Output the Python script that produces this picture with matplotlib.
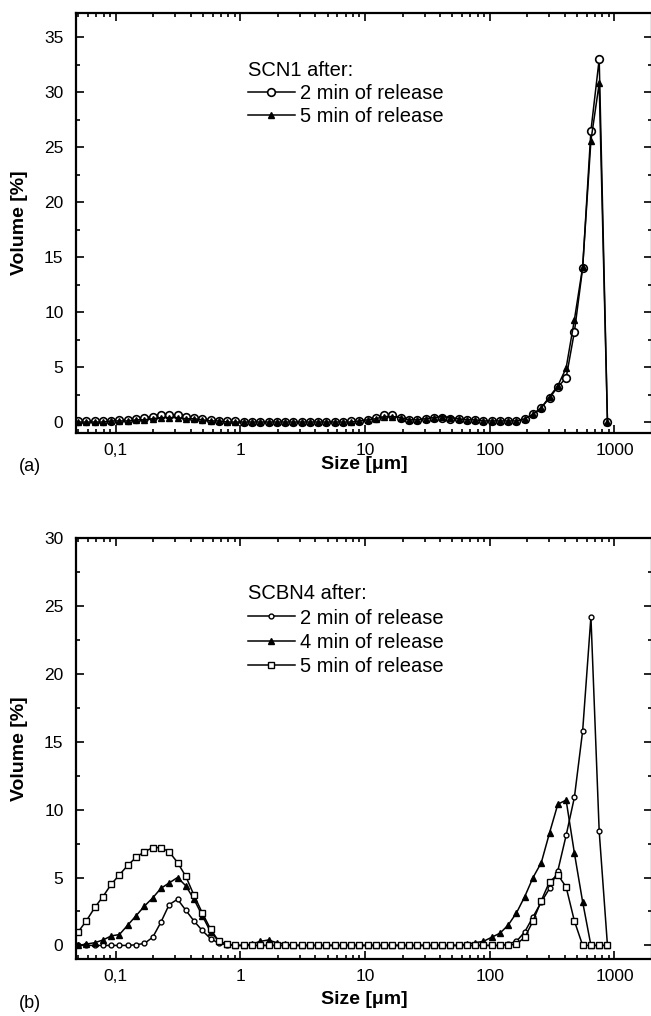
import matplotlib
matplotlib.use("Agg")
import matplotlib.pyplot as plt
from matplotlib.ticker import FixedLocator, FixedFormatter, LogLocator, NullFormatter, MultipleLocator

plt.rcParams["font.family"] = ["Liberation Sans", "DejaVu Sans"]

# particle size classes (um)
size_um = [0.050, 0.058, 0.068, 0.079, 0.092, 0.107, 0.125, 0.146, 0.170, 0.198,
           0.230, 0.268, 0.313, 0.364, 0.424, 0.494, 0.576, 0.671, 0.781, 0.910,
           1.06, 1.24, 1.44, 1.68, 1.95, 2.28, 2.65, 3.09, 3.60, 4.19,
           4.88, 5.69, 6.63, 7.72, 9.00, 10.48, 12.21, 14.22, 16.57, 19.31,
           22.49, 26.20, 30.53, 35.56, 41.43, 48.27, 56.23, 65.51, 76.32, 88.91,
           103.58, 120.67, 140.58, 163.77, 190.80, 222.28, 258.95, 301.68, 351.46, 409.45,
           477.01, 555.71, 647.41, 754.23, 878.67]

# (a) SCN1
scn1_2min = [0.1, 0.1, 0.1, 0.1, 0.1, 0.2, 0.2, 0.3, 0.4, 0.5,
             0.6, 0.6, 0.6, 0.5, 0.4, 0.3, 0.2, 0.1, 0.1, 0.1,
             0.0, 0.0, 0.0, 0.0, 0.0, 0.0, 0.0, 0.0, 0.0, 0.0,
             0.0, 0.0, 0.0, 0.1, 0.1, 0.2, 0.4, 0.6, 0.6, 0.4,
             0.2, 0.2, 0.3, 0.4, 0.4, 0.3, 0.3, 0.2, 0.2, 0.1,
             0.1, 0.1, 0.1, 0.1, 0.3, 0.7, 1.3, 2.2, 3.2, 4.0,
             8.2, 14.0, 26.5, 33.0, 0.0]
scn1_5min = [0.0, 0.0, 0.0, 0.0, 0.1, 0.1, 0.1, 0.2, 0.2, 0.3,
             0.4, 0.4, 0.4, 0.3, 0.3, 0.2, 0.1, 0.1, 0.0, 0.0,
             0.0, 0.0, 0.0, 0.0, 0.0, 0.0, 0.0, 0.0, 0.0, 0.0,
             0.0, 0.0, 0.0, 0.0, 0.1, 0.2, 0.3, 0.5, 0.5, 0.4,
             0.2, 0.2, 0.3, 0.4, 0.5, 0.4, 0.3, 0.2, 0.2, 0.1,
             0.1, 0.1, 0.1, 0.1, 0.3, 0.7, 1.3, 2.3, 3.3, 4.9,
             9.3, 14.1, 25.6, 30.8, 0.0]

# (b) SCBN4
scbn4_2min = [0.0, 0.0, 0.0, 0.0, 0.0, 0.0, 0.0, 0.05, 0.15, 0.6,
              1.7, 3.0, 3.4, 2.6, 1.8, 1.1, 0.5, 0.15, 0.05, 0.0,
              0.0, 0.0, 0.0, 0.0, 0.0, 0.0, 0.0, 0.0, 0.0, 0.0,
              0.0, 0.0, 0.0, 0.0, 0.0, 0.0, 0.0, 0.0, 0.0, 0.0,
              0.0, 0.0, 0.0, 0.0, 0.0, 0.0, 0.0, 0.0, 0.0, 0.0,
              0.0, 0.0, 0.1, 0.3, 1.0, 2.1, 3.2, 4.2, 5.5, 8.1,
              10.9, 15.8, 24.2, 8.4, 0.0]
scbn4_4min = [0.0, 0.1, 0.2, 0.4, 0.7, 0.8, 1.5, 2.2, 2.9, 3.5,
              4.2, 4.6, 5.0, 4.4, 3.4, 2.2, 1.0, 0.3, 0.1, 0.0,
              0.0, 0.1, 0.3, 0.4, 0.2, 0.1, 0.0, 0.0, 0.0, 0.0,
              0.0, 0.0, 0.0, 0.0, 0.0, 0.0, 0.0, 0.0, 0.0, 0.0,
              0.0, 0.0, 0.0, 0.0, 0.0, 0.0, 0.0, 0.1, 0.2, 0.3,
              0.6, 0.9, 1.5, 2.4, 3.6, 5.0, 6.1, 8.3, 10.4, 10.7,
              6.8, 3.2, 0.0, 0.0, 0.0]
scbn4_5min = [1.0, 1.8, 2.8, 3.6, 4.5, 5.2, 5.9, 6.5, 6.9, 7.2,
              7.2, 6.9, 6.1, 5.1, 3.7, 2.4, 1.2, 0.3, 0.1, 0.0,
              0.0, 0.0, 0.0, 0.0, 0.0, 0.0, 0.0, 0.0, 0.0, 0.0,
              0.0, 0.0, 0.0, 0.0, 0.0, 0.0, 0.0, 0.0, 0.0, 0.0,
              0.0, 0.0, 0.0, 0.0, 0.0, 0.0, 0.0, 0.0, 0.0, 0.0,
              0.0, 0.0, 0.0, 0.1, 0.6, 1.8, 3.3, 4.7, 5.2, 4.3,
              1.8, 0.0, 0.0, 0.0, 0.0]

x_ticks = [0.1, 1, 10, 100, 1000]
x_ticklabels = ["0,1", "1", "10", "100", "1000"]

W, H = 651, 1016
fig = plt.figure(figsize=(W / 100, H / 100), dpi=100)
ax1 = fig.add_axes([76 / W, 1 - 433 / H, 576 / W, 420 / H])
ax2 = fig.add_axes([76 / W, 1 - 959 / H, 576 / W, 421 / H])


def style_axes(ax, ylim, label_y):
    ax.set_xscale("log")
    ax.set_xlim(0.048, 2000)
    ax.set_ylim(*ylim)
    ax.xaxis.set_major_locator(FixedLocator(x_ticks))
    ax.xaxis.set_major_formatter(FixedFormatter(x_ticklabels))
    ax.xaxis.set_minor_locator(LogLocator(base=10, subs=range(2, 10), numticks=20))
    ax.xaxis.set_minor_formatter(NullFormatter())
    ax.yaxis.set_major_locator(MultipleLocator(5))
    ax.yaxis.set_minor_locator(MultipleLocator(2.5))
    ax.tick_params(which="both", direction="in", top=True, right=True, width=1.2)
    ax.tick_params(which="major", length=5.5)
    ax.tick_params(which="minor", length=3)
    ax.tick_params(axis="x", labelsize=12.5, pad=7)
    ax.tick_params(axis="y", labelsize=12.5, pad=9)
    for sp in ax.spines.values():
        sp.set_linewidth(1.6)
    ax.set_xlabel("Size [\u03bcm]", fontsize=14, fontweight="bold")
    ax.set_ylabel("Volume [%]", fontsize=14, fontweight="bold")
    ax.xaxis.set_label_coords(0.5, label_y)
    ax.yaxis.set_label_coords(-0.083, 0.5)


# (a)
ax1.plot(size_um, scn1_2min, color="black", lw=1.1, marker="o", ms=5.5,
         mfc="white", mec="black", mew=1.2, label="2 min of release")
ax1.plot(size_um, scn1_5min, color="black", lw=1.1, marker="^", ms=4.5,
         mfc="black", mec="black", label="5 min of release")
style_axes(ax1, (-1, 37.2), -0.055)
ax1.legend(loc="upper left", bbox_to_anchor=(0.299, 0.885), title="SCN1 after:",
           frameon=False, fontsize=14.5, title_fontsize=14.5, alignment="left",
           handlelength=2.3, handletextpad=0.25, labelspacing=0.2,
           borderpad=0, borderaxespad=0)

# (b)
ax2.plot(size_um, scbn4_2min, color="black", lw=1.1, marker="o", ms=3.5,
         mfc="white", mec="black", mew=1.0, label="2 min of release")
ax2.plot(size_um, scbn4_4min, color="black", lw=1.1, marker="^", ms=5,
         mfc="black", mec="black", label="4 min of release")
ax2.plot(size_um, scbn4_5min, color="black", lw=1.1, marker="s", ms=4,
         mfc="white", mec="black", mew=1.0, label="5 min of release")
style_axes(ax2, (-1, 30), -0.076)
ax2.legend(loc="upper left", bbox_to_anchor=(0.299, 0.89), title="SCBN4 after:",
           frameon=False, fontsize=14.5, title_fontsize=14.5, alignment="left",
           handlelength=2.3, handletextpad=0.25, labelspacing=0.26,
           borderpad=0, borderaxespad=0)

fig.text(19 / W, 1 - 466 / H, "(a)", fontsize=13, va="center", ha="left")
fig.text(19 / W, 1 - 1003 / H, "(b)", fontsize=13, va="center", ha="left")

fig.savefig("out.png", dpi=100)
